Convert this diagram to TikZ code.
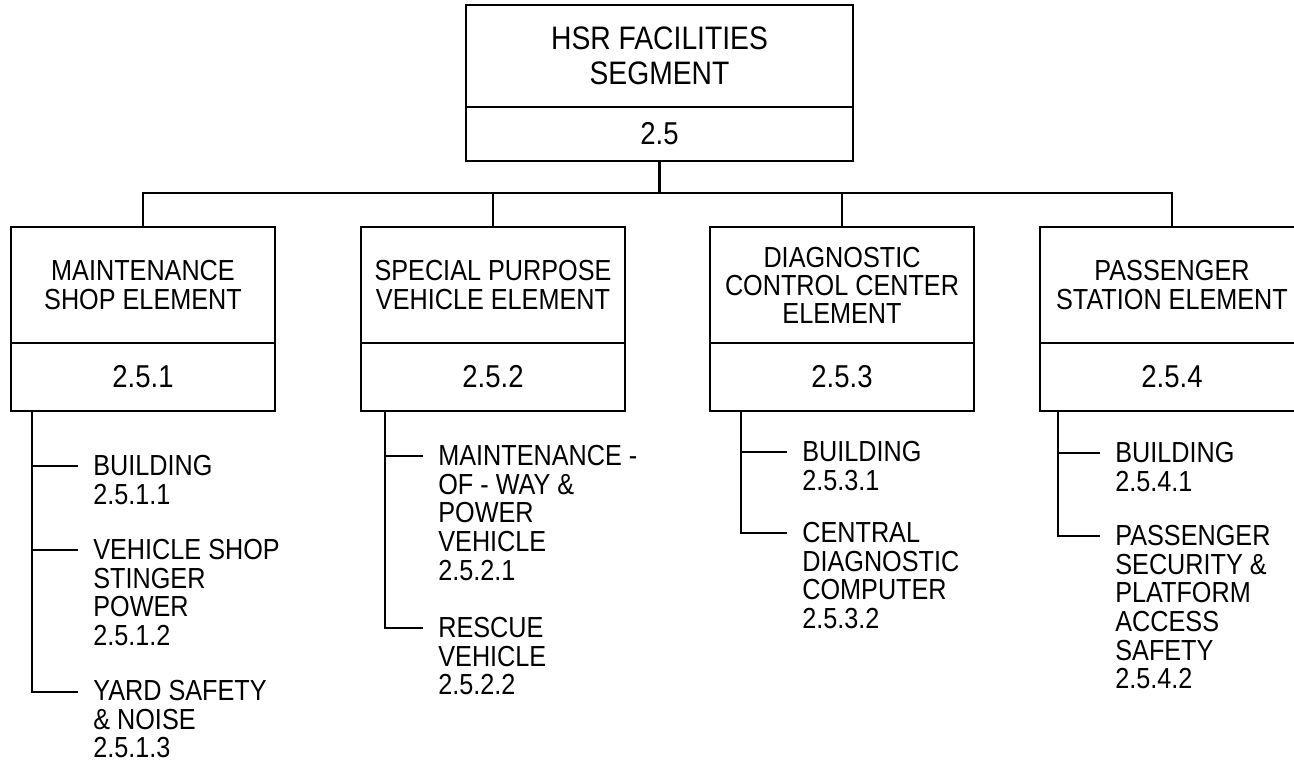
\documentclass[tikz,border=0pt]{standalone}
\usepackage{fontspec}
\setmainfont{Liberation Sans}[FakeStretch=0.87]
\usetikzlibrary{positioning}

\tikzset{
  segbox/.style={draw, line width=1.3pt, outer sep=0pt, inner sep=0pt,
    minimum width=7.74cm, minimum height=2.04cm, align=center,
    font=\fontsize{18.5}{20}\selectfont},
  segnumbox/.style={draw, line width=1.3pt, outer sep=0pt, inner sep=0pt,
    minimum width=7.74cm, minimum height=1.08cm,
    font=\fontsize{18}{20}\selectfont},
  elbox/.style={draw, line width=1.3pt, outer sep=0pt, inner sep=0pt,
    minimum width=5.28cm, minimum height=2.32cm, align=center,
    font=\fontsize{16.5}{16}\selectfont},
  elnumbox/.style={draw, line width=1.3pt, outer sep=0pt, inner sep=0pt,
    minimum width=5.28cm, minimum height=1.36cm,
    font=\fontsize{18}{20}\selectfont},
  item/.style={anchor=north west, align=left, inner sep=0pt,
    font=\fontsize{16.5}{16.3}\selectfont},
  tree/.style={line width=1.3pt}
}

\begin{document}
\begin{tikzpicture}[x=0.02cm, y=-0.02cm]
  \useasboundingbox (0,0) rectangle (1294,763);
  \clip (0,0) rectangle (1294,763);
  % Segment box
  \node[segbox] (seg) at (659.5,56) {HSR FACILITIES\\SEGMENT};
  \node[segnumbox, below=0pt of seg] (segnum) {2.5};
  % Element boxes
  \node[elbox] (el1) at (143,285) {MAINTENANCE\\SHOP ELEMENT};
  \node[elnumbox, below=0pt of el1] (num1) {2.5.1};
  \node[elbox] (el2) at (493,285) {SPECIAL PURPOSE\\VEHICLE ELEMENT};
  \node[elnumbox, below=0pt of el2] (num2) {2.5.2};
  \node[elbox] (el3) at (842,285) {DIAGNOSTIC\\CONTROL CENTER\\ELEMENT};
  \node[elnumbox, below=0pt of el3] (num3) {2.5.3};
  \node[elbox] (el4) at (1172,285) {PASSENGER\\STATION ELEMENT};
  \node[elnumbox, below=0pt of el4] (num4) {2.5.4};
  % Bus
  \coordinate (bus) at (0,193);
  \draw[tree] (segnum.south) -- (segnum.south |- bus);
  \draw[tree] (el1.north) -- (el1.north |- bus) -- (el4.north |- bus) -- (el4.north);
  \draw[tree] (el2.north) -- (el2.north |- bus);
  \draw[tree] (el3.north) -- (el3.north |- bus);
  % Maintenance shop items
  \coordinate (v1) at (32,0);
  \coordinate (k11) at (78,466);
  \coordinate (k12) at (78,550);
  \coordinate (k13) at (78,692);
  \draw[tree] (v1 |- num1.south) |- (k13);
  \draw[tree] (v1 |- k11) -- (k11);
  \draw[tree] (v1 |- k12) -- (k12);
  \node[item] (m11) at ([shift={(15,-11)}]k11) {BUILDING\\2.5.1.1};
  \node[item] (m12) at ([shift={(15,-11)}]k12) {VEHICLE SHOP\\STINGER\\POWER\\2.5.1.2};
  \node[item] (m13) at ([shift={(15,-12)}]k13) {YARD SAFETY\\\& NOISE\\2.5.1.3};
  % Special purpose vehicle items
  \coordinate (v2) at (385,0);
  \coordinate (k21) at (423,456);
  \coordinate (k22) at (423,628);
  \draw[tree] (v2 |- num2.south) |- (k22);
  \draw[tree] (v2 |- k21) -- (k21);
  \node[item] (m21) at ([shift={(15,-11)}]k21) {MAINTENANCE -\\OF - WAY \&\\POWER\\VEHICLE\\2.5.2.1};
  \node[item] (m22) at ([shift={(15,-11)}]k22) {RESCUE\\VEHICLE\\2.5.2.2};
  % Diagnostic control center items
  \coordinate (v3) at (741,0);
  \coordinate (k31) at (787,452);
  \coordinate (k32) at (787,533);
  \draw[tree] (v3 |- num3.south) |- (k32);
  \draw[tree] (v3 |- k31) -- (k31);
  \node[item] (m31) at ([shift={(15,-11)}]k31) {BUILDING\\2.5.3.1};
  \node[item] (m32) at ([shift={(15,-11)}]k32) {CENTRAL\\DIAGNOSTIC\\COMPUTER\\2.5.3.2};
  % Passenger station items
  \coordinate (v4) at (1058,0);
  \coordinate (k41) at (1100,453);
  \coordinate (k42) at (1100,536);
  \draw[tree] (v4 |- num4.south) |- (k42);
  \draw[tree] (v4 |- k41) -- (k41);
  \node[item] (m41) at ([shift={(15,-11)}]k41) {BUILDING\\2.5.4.1};
  \node[item] (m42) at ([shift={(15,-11)}]k42) {PASSENGER\\SECURITY \&\\PLATFORM\\ACCESS\\SAFETY\\2.5.4.2};
\end{tikzpicture}
\end{document}
